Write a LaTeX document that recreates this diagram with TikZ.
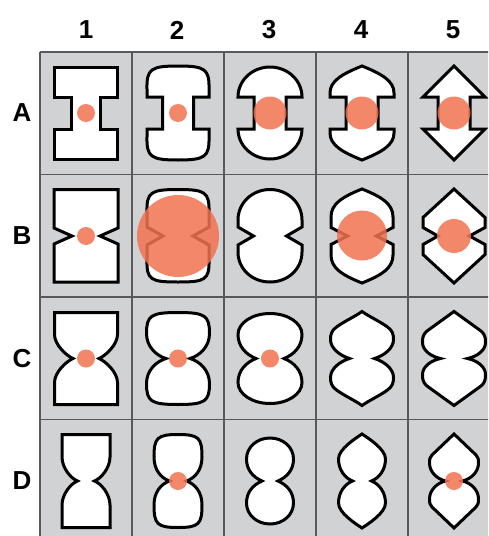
\documentclass[tikz,border=0pt]{standalone}
\usepackage{fontspec}
\setmainfont{Liberation Sans}
\usepackage{xcolor}
\usepackage{tikz}
\definecolor{cellgrey}{RGB}{209, 210, 212}
\definecolor{gridgrey}{RGB}{88, 89, 91}
\definecolor{spotsalmon}{RGB}{242, 114, 81}

\begin{document}
\begin{tikzpicture}[x=1pt, y=-1pt,
    blob/.style={draw=black, fill=white, line width=3pt, miter limit=4},
    spot/.style={fill=spotsalmon, fill opacity=0.85},
    gridline/.style={draw=gridgrey, line width=1.4pt},
    lbl/.style={font=\bfseries\fontsize{26}{30}\selectfont}]
    \useasboundingbox (0,0) rectangle (488,536);
    \clip (0,0) rectangle (488,536);

    % Background cells
    \fill[cellgrey] (40,52) rectangle (500,545);
    \draw[gridline] (40,52) -- (500,52);
    \draw[gridline] (40,174.5) -- (500,174.5);
    \draw[gridline] (40,297) -- (500,297);
    \draw[gridline] (40,419.5) -- (500,419.5);
    \draw[gridline] (40,52) -- (40,545);
    \draw[gridline] (132,52) -- (132,545);
    \draw[gridline] (224,52) -- (224,545);
    \draw[gridline] (316,52) -- (316,545);
    \draw[gridline] (408,52) -- (408,545);

    % Column and row labels
    \node[lbl] (col1) at (86,30) {1};
    \node[lbl] (col2) at (177,30) {2};
    \node[lbl] (col3) at (269,30) {3};
    \node[lbl] (col4) at (361,30) {4};
    \node[lbl] (col5) at (453,30) {5};
    \node[lbl] (rowA) at (22,113) {A};
    \node[lbl] (rowB) at (22,236) {B};
    \node[lbl] (rowC) at (22,358.5) {C};
    \node[lbl] (rowD) at (22,481) {D};

    % Row A: square notch
    \begin{scope}[shift={(86,113)}]
        \draw[blob] (-14.5,16) -- (-14.5,-16) -- (-31.5,-16) -- (-31.5,-46) -- (31.5,-46) -- (31.5,-16) -- (14.5,-16) -- (14.5,16) -- (31.5,16) -- (31.5,46) -- (-31.5,46) -- (-31.5,16) -- cycle;
        \fill[spot] (0,0) circle[radius=9];
    \end{scope}
    \begin{scope}[shift={(178,113)}]
        \draw[blob] (-15.5,16) -- (-15.5,-16) -- (-31,-16) -- (-31,-24) .. controls (-31.5,-44) and (-27,-47) .. (0,-47) .. controls (27,-47) and (31.5,-44) .. (31,-24) -- (31,-16) -- (15.5,-16) -- (15.5,16) -- (31,16) -- (31,24) .. controls (31.5,44) and (27,47) .. (0,47) .. controls (-27,47) and (-31.5,44) .. (-31,24) -- (-31,16) -- cycle;
        \fill[spot] (0,0) circle[radius=9];
    \end{scope}
    \begin{scope}[shift={(270,113)}]
        \draw[blob] (-16,16) -- (-16,-16) -- (-32,-16) .. controls (-32,-32.6) and (-17.7,-46) .. (0,-46) .. controls (17.7,-46) and (32,-32.6) .. (32,-16) -- (16,-16) -- (16,16) -- (32,16) .. controls (32,32.6) and (17.7,46) .. (0,46) .. controls (-17.7,46) and (-32,32.6) .. (-32,16) -- cycle;
        \fill[spot] (0,0) circle[radius=16.5];
    \end{scope}
    \begin{scope}[shift={(362,113)}]
        \draw[blob] (-16,16) -- (-16,-16) -- (-32,-16) -- (-32,-20) .. controls (-32,-32) and (-20,-39) .. (0,-47) .. controls (20,-39) and (32,-32) .. (32,-20) -- (32,-16) -- (16,-16) -- (16,16) -- (32,16) -- (32,20) .. controls (32,32) and (20,39) .. (0,47) .. controls (-20,39) and (-32,32) .. (-32,20) -- (-32,16) -- cycle;
        \fill[spot] (0,0) circle[radius=16.5];
    \end{scope}
    \begin{scope}[shift={(454,113)}]
        \draw[blob] (-16,16) -- (-16,-16) -- (-31,-16) -- (0,-47) -- (31,-16) -- (16,-16) -- (16,16) -- (31,16) -- (0,47) -- (-31,16) -- cycle;
        \fill[spot] (0,0) circle[radius=16.5];
    \end{scope}

    % Row B: V notch
    \begin{scope}[shift={(86,236)}]
        \draw[blob] (-14,0) -- (-32,-8) -- (-32,-46.5) -- (32,-46.5) -- (32,-8) -- (14,0) -- (32,8) -- (32,46) -- (-32,46) -- (-32,8) -- cycle;
        \fill[spot] (0,0) circle[radius=9];
    \end{scope}
    \begin{scope}[shift={(178,236)}]
        \draw[blob] (-15,0) -- (-31,-9) -- (-31,-24) .. controls (-31.5,-44) and (-27,-46.5) .. (0,-46.5) .. controls (27,-46.5) and (31.5,-44) .. (31,-24) -- (31,-9) -- (15,0) -- (31,9) -- (31,24) .. controls (31.5,44) and (27,46) .. (0,46) .. controls (-27,46) and (-31.5,44) .. (-31,24) -- (-31,9) -- cycle;
        \fill[spot] (0,0) circle[radius=41];
    \end{scope}
    \begin{scope}[shift={(270,236)}]
        \draw[blob] (-16.5,0) -- (-32,-9) -- (-32,-16) .. controls (-32,-33.1) and (-17.7,-46.5) .. (0,-46.5) .. controls (17.7,-46.5) and (32,-33.1) .. (32,-16) -- (32,-9) -- (16.5,0) -- (32,9) -- (32,16) .. controls (32,33.1) and (17.7,46) .. (0,46) .. controls (-17.7,46) and (-32,33.1) .. (-32,16) -- (-32,9) -- cycle;
    \end{scope}
    \begin{scope}[shift={(362,236)}]
        \draw[blob] (-14.5,0) -- (-31,-8.5) -- (-31,-19) .. controls (-31,-32) and (-20,-39) .. (0,-47) .. controls (20,-39) and (31,-32) .. (31,-19) -- (31,-8.5) -- (14.5,0) -- (31,8.5) -- (31,19) .. controls (31,32) and (20,39) .. (0,47) .. controls (-20,39) and (-31,32) .. (-31,19) -- (-31,8.5) -- cycle;
        \fill[spot] (0,-0.5) circle[radius=25];
    \end{scope}
    \begin{scope}[shift={(454,236)}]
        \draw[blob] (-16,0) -- (-31,-8.5) -- (-31,-18.5) -- (0,-47) -- (31,-18.5) -- (31,-8.5) -- (15.5,0) -- (31,8.5) -- (31,18.5) -- (0,47) -- (-31,18.5) -- (-31,8.5) -- cycle;
        \fill[spot] (0,0) circle[radius=17];
    \end{scope}

    % Row C: curved waist
    \begin{scope}[shift={(86,358.5)}]
        \draw[blob] (-13,0) .. controls (-20,-3) and (-31.5,-14) .. (-31.5,-24) -- (-31.5,-46) -- (31.5,-46) -- (31.5,-24) .. controls (31.5,-14) and (20,-3) .. (13,0) .. controls (20,3) and (31.5,14) .. (31.5,24) -- (31.5,46) -- (-31.5,46) -- (-31.5,24) .. controls (-31.5,14) and (-20,3) .. (-13,0) -- cycle;
        \fill[spot] (0,0) circle[radius=9];
    \end{scope}
    \begin{scope}[shift={(178,358.5)}]
        \draw[blob] (-12,0) .. controls (-22,-3) and (-31.5,-12) .. (-31.5,-25) .. controls (-31.5,-43) and (-27,-46) .. (0,-46) .. controls (27,-46) and (31.5,-43) .. (31.5,-25) .. controls (31.5,-12) and (22,-3) .. (12,0) .. controls (22,3) and (31.5,12) .. (31.5,25) .. controls (31.5,43) and (27,46) .. (0,46) .. controls (-27,46) and (-31.5,43) .. (-31.5,25) .. controls (-31.5,12) and (-22,3) .. (-12,0) -- cycle;
        \fill[spot] (0,0) circle[radius=9];
    \end{scope}
    \begin{scope}[shift={(270,358.5)}]
        \draw[blob] (-14,0) .. controls (-24,-4) and (-32,-12) .. (-32,-24) .. controls (-32,-35.6) and (-17.7,-45) .. (0,-45) .. controls (17.7,-45) and (32,-35.6) .. (32,-24) .. controls (32,-12) and (24,-4) .. (14,0) .. controls (24,4) and (32,12) .. (32,24) .. controls (32,35.6) and (17.7,45) .. (0,45) .. controls (-17.7,45) and (-32,35.6) .. (-32,24) .. controls (-32,12) and (-24,4) .. (-14,0) -- cycle;
        \fill[spot] (0,0) circle[radius=9];
    \end{scope}
    \begin{scope}[shift={(362,358.5)}]
        \draw[blob] (-12.5,0) .. controls (-22,-3) and (-31.5,-10) .. (-31.5,-19) .. controls (-31.5,-24) and (-30.5,-28) .. (-25.5,-31.5) .. controls (-18,-37) and (-7,-42) .. (0,-47) .. controls (7,-42) and (18,-37) .. (25.5,-31.5) .. controls (30.5,-28) and (31.5,-24) .. (31.5,-19) .. controls (31.5,-10) and (22,-3) .. (12.5,0) .. controls (22,3) and (31.5,10) .. (31.5,19) .. controls (31.5,24) and (30.5,28) .. (25.5,31.5) .. controls (18,37) and (7,42) .. (0,47) .. controls (-7,42) and (-18,37) .. (-25.5,31.5) .. controls (-30.5,28) and (-31.5,24) .. (-31.5,19) .. controls (-31.5,10) and (-22,3) .. (-12.5,0) -- cycle;
    \end{scope}
    \begin{scope}[shift={(454,358.5)}]
        \draw[blob] (-13.5,0) .. controls (-23,-2) and (-31.5,-8) .. (-31.5,-16) .. controls (-31.5,-21) and (-31,-24) .. (-27,-27.5) -- (0,-47) -- (27,-27.5) .. controls (31,-24) and (31.5,-21) .. (31.5,-16) .. controls (31.5,-8) and (23,-2) .. (13.5,0) .. controls (23,2) and (31.5,8) .. (31.5,16) .. controls (31.5,21) and (31,24) .. (27,27.5) -- (0,47) -- (-27,27.5) .. controls (-31,24) and (-31.5,21) .. (-31.5,16) .. controls (-31.5,8) and (-23,2) .. (-13.5,0) -- cycle;
    \end{scope}

    % Row D: narrow curved waist
    \begin{scope}[shift={(86,481)}]
        \draw[blob] (-8.5,0) .. controls (-15,-2.5) and (-24,-13) .. (-24,-24) -- (-24,-46.5) -- (24,-46.5) -- (24,-24) .. controls (24,-13) and (15,-2.5) .. (8.5,0) .. controls (15,2.5) and (24,13) .. (24,24) -- (24,46.5) -- (-24,46.5) -- (-24,24) .. controls (-24,13) and (-15,2.5) .. (-8.5,0) -- cycle;
    \end{scope}
    \begin{scope}[shift={(178,481)}]
        \draw[blob] (-8.5,0) .. controls (-17,-3) and (-24,-11) .. (-24,-24) .. controls (-24,-43) and (-21,-46.5) .. (0,-46.5) .. controls (21,-46.5) and (24,-43) .. (24,-24) .. controls (24,-11) and (17,-3) .. (8.5,0) .. controls (17,3) and (24,11) .. (24,24) .. controls (24,43) and (21,46.5) .. (0,46.5) .. controls (-21,46.5) and (-24,43) .. (-24,24) .. controls (-24,11) and (-17,3) .. (-8.5,0) -- cycle;
        \fill[spot] (0,0) circle[radius=9];
    \end{scope}
    \begin{scope}[shift={(270,481)}]
        \draw[blob] (-8,0) .. controls (-17,-4) and (-23.5,-11) .. (-23.5,-22) .. controls (-23.5,-33.9) and (-13,-43) .. (0,-43) .. controls (13,-43) and (23.5,-33.9) .. (23.5,-22) .. controls (23.5,-11) and (17,-4) .. (8,0) .. controls (17,4) and (23.5,11) .. (23.5,22) .. controls (23.5,33.9) and (13,43) .. (0,43) .. controls (-13,43) and (-23.5,33.9) .. (-23.5,22) .. controls (-23.5,11) and (-17,4) .. (-8,0) -- cycle;
    \end{scope}
    \begin{scope}[shift={(362,481)}]
        \draw[blob] (-9.5,0) .. controls (-17,-3) and (-23.5,-11) .. (-23.5,-22) .. controls (-23.5,-32) and (-6,-43) .. (0,-47) .. controls (6,-43) and (23.5,-32) .. (23.5,-22) .. controls (23.5,-11) and (17,-3) .. (9.5,0) .. controls (17,3) and (23.5,11) .. (23.5,22) .. controls (23.5,32) and (6,43) .. (0,47) .. controls (-6,43) and (-23.5,32) .. (-23.5,22) .. controls (-23.5,11) and (-17,3) .. (-9.5,0) -- cycle;
    \end{scope}
    \begin{scope}[shift={(454,481)}]
        \draw[blob] (-8.5,0) .. controls (-17,-2) and (-24.5,-9) .. (-24.5,-18) .. controls (-24.5,-22) and (-24,-24) .. (-22,-26) -- (0,-47) -- (22,-26) .. controls (24,-24) and (24.5,-22) .. (24.5,-18) .. controls (24.5,-9) and (17,-2) .. (8.5,0) .. controls (17,2) and (24.5,9) .. (24.5,18) .. controls (24.5,22) and (24,24) .. (22,26) -- (0,47) -- (-22,26) .. controls (-24,24) and (-24.5,22) .. (-24.5,18) .. controls (-24.5,9) and (-17,2) .. (-8.5,0) -- cycle;
        \fill[spot] (0,0) circle[radius=9];
    \end{scope}
\end{tikzpicture}
\end{document}
